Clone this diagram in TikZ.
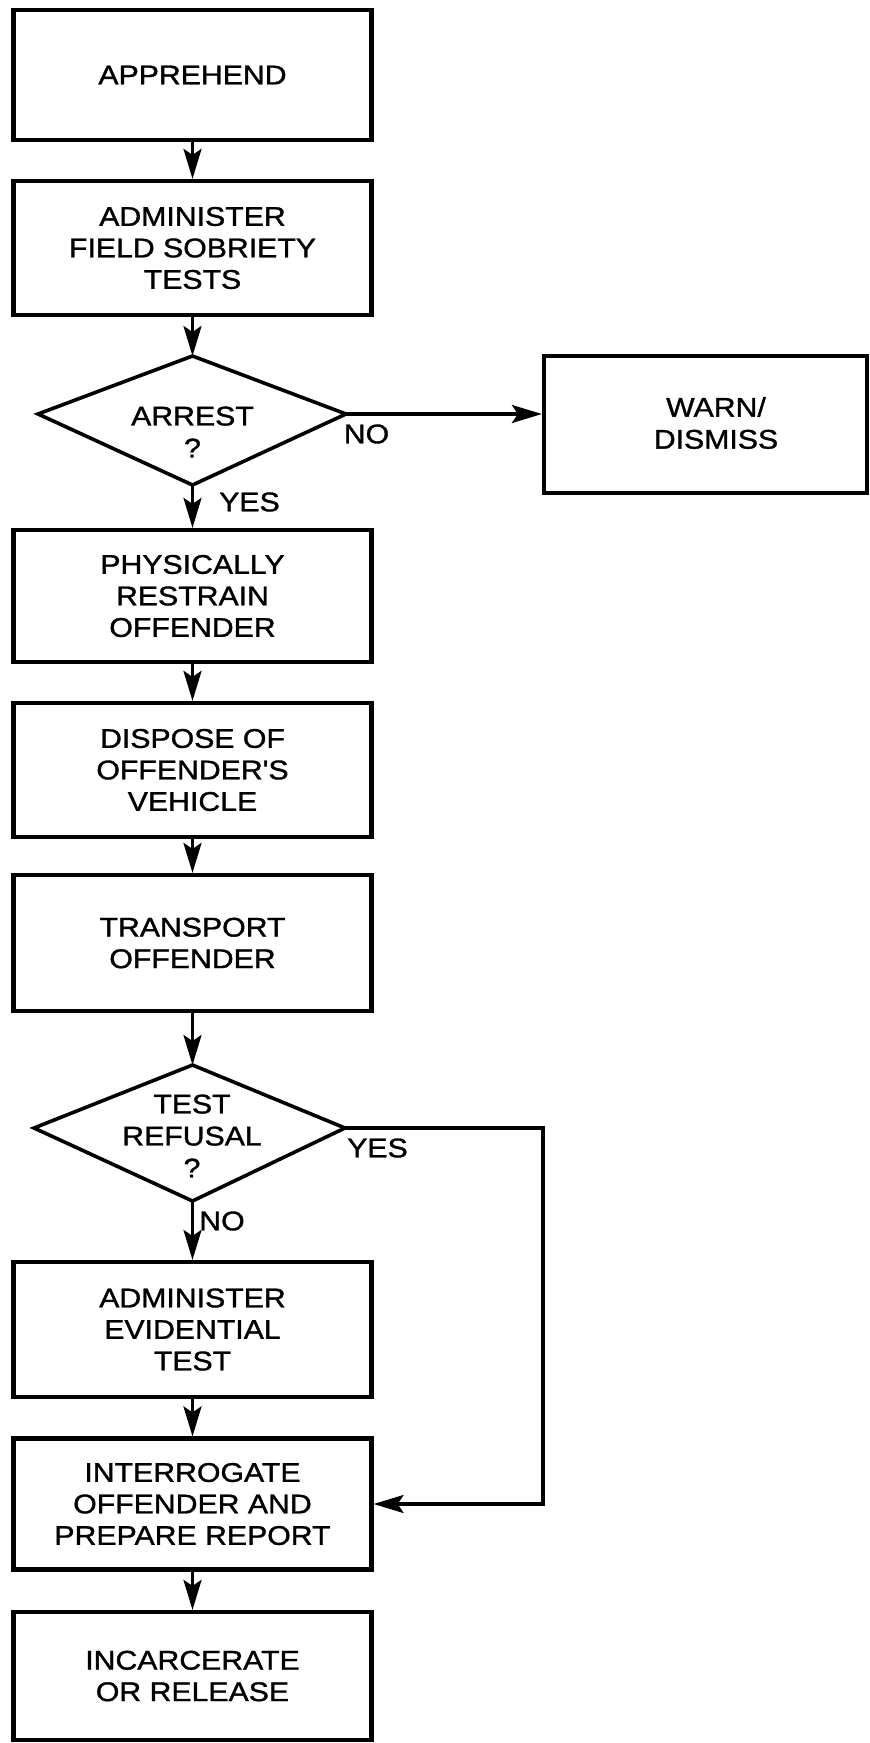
\documentclass[tikz,border=0pt]{standalone}
\usepackage{fontspec}
\setmainfont{Liberation Sans}[FakeStretch=1.12, FakeBold=1.2]
% same face without the TeX quote mapping, for a straight apostrophe
\newfontfamily\straightfont{Liberation Sans}[FakeStretch=1.12, FakeBold=1.2]
\usetikzlibrary{arrows.meta,calc}

\tikzset{
  stepbox/.style={draw, line width=4.2pt, minimum width=358pt, inner sep=0pt,
    align=center, font=\fontsize{27}{31.5}\selectfont},
  decision/.style={line width=3.6pt, line join=miter},
  qtext/.style={align=center, inner sep=0pt, font=\fontsize{27}{32}\selectfont},
  lbl/.style={inner sep=0pt, font=\fontsize{27}{31.5}\selectfont},
  flow/.style={line width=3.2pt, -{Stealth[length=30pt,width=18pt,inset=6pt]}},
}

\begin{document}
\begin{tikzpicture}[x=1pt, y=-1pt]
  % page
  \fill[white] (0,0) rectangle (870,1743);
  \useasboundingbox (0,0) rectangle (870,1743);

  % process boxes
  \node[stepbox, minimum height=130pt] (b1) at (192.5,75) {APPREHEND};
  \node[stepbox, minimum height=134pt] (b2) at (192.5,248) {ADMINISTER\\FIELD SOBRIETY\\TESTS};
  \node[stepbox, minimum height=132pt] (b3) at (192.5,596) {PHYSICALLY\\RESTRAIN\\OFFENDER};
  \node[stepbox, minimum height=134pt] (b4) at (192.5,770) {DISPOSE OF\\OFFENDER{\straightfont '}S\\VEHICLE};
  \node[stepbox, minimum height=136pt] (b5) at (192.5,943) {TRANSPORT\\OFFENDER};
  \node[stepbox, minimum height=135pt] (b6) at (192.5,1329.5) {ADMINISTER\\EVIDENTIAL\\TEST};
  \node[stepbox, minimum height=131pt] (b7) at (192.5,1504) {INTERROGATE\\OFFENDER AND\\PREPARE REPORT};
  \node[stepbox, minimum height=128pt] (b8) at (192.5,1676) {INCARCERATE\\OR RELEASE};

  % side outcome
  \node[stepbox, minimum width=323pt, minimum height=137pt] (warn) at (705.5,424.5) {};
  \node[qtext] (warntxt) at (716,423) {WARN/\\DISMISS};

  % first decision
  \coordinate (d1t) at (192.5,356);
  \coordinate (d1r) at (346,414);
  \coordinate (d1b) at (192.5,485);
  \coordinate (d1l) at (38,414);
  \draw[decision] (d1t) -- (d1r) -- (d1b) -- (d1l) -- cycle;
  \node[qtext] (d1txt) at (192.5,432) {ARREST\\?};

  % second decision
  \coordinate (d2t) at (192.5,1065);
  \coordinate (d2r) at (345,1128);
  \coordinate (d2b) at (192.5,1201);
  \coordinate (d2l) at (34,1128);
  \draw[decision] (d2t) -- (d2r) -- (d2b) -- (d2l) -- cycle;
  \node[qtext] (d2txt) at (192,1136) {TEST\\REFUSAL\\?};

  % connectors
  \draw[flow] (b1.south) -- (b2.north);
  \draw[flow] (b2.south) -- (d1t);
  \draw[flow] (d1r) -- (d1r -| warn.west);
  \draw[flow] (d1b) -- (b3.north);
  \draw[flow] (b3.south) -- (b4.north);
  \draw[flow] (b4.south) -- (b5.north);
  \draw[flow] (b5.south) -- (d2t);
  \draw[flow] (d2b) -- (b6.north);
  \draw[flow] (b6.south) -- (b7.north);
  \draw[flow] (b7.south) -- (b8.north);
  \coordinate (ret) at (543,1128);
  \draw[flow, line join=miter] (d2r) -- (ret) |- (b7.east);

  % branch labels
  \node[lbl] (no1) at (366.5,434) {NO};
  \node[lbl] (yes1) at (249.5,502) {YES};
  \node[lbl] (yes2) at (377.5,1148) {YES};
  \node[lbl] (no2) at (222,1221) {NO};
\end{tikzpicture}
\end{document}
